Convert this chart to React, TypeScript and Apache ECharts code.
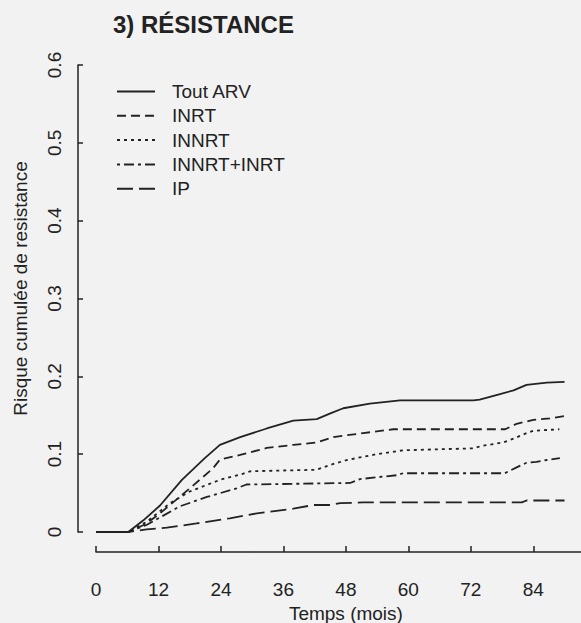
import React, { useEffect, useRef } from "react";
import * as echarts from "echarts";

const seriesNames = ["Tout ARV", "INRT", "INNRT", "INNRT+INRT", "IP"];

const toutMonths = [0, 6.2, 9.1, 12.3, 16.5, 20.9, 23.8, 27.7, 32.8, 37.9, 42.4, 44.9, 47.5, 52.6, 58.4, 72.5, 73.7, 77.6, 80.2, 82.7, 86.6, 90];
const toutValues = [0, 0, 0.015, 0.034, 0.067, 0.095, 0.112, 0.122, 0.133, 0.143, 0.145, 0.152, 0.159, 0.165, 0.169, 0.169, 0.17, 0.177, 0.182, 0.189, 0.192, 0.193];

const inrtMonths = [0, 6.2, 9.5, 12.3, 18, 22.5, 23.8, 27.7, 32.8, 37.9, 42.4, 45.6, 51.3, 57.1, 78.6, 80.8, 84, 87.2, 90];
const inrtValues = [0, 0, 0.01, 0.024, 0.056, 0.082, 0.093, 0.099, 0.108, 0.112, 0.115, 0.122, 0.127, 0.132, 0.132, 0.139, 0.144, 0.146, 0.149];

const innrtMonths = [0, 6.2, 9.7, 14.2, 18, 23.8, 28.3, 29.6, 42.4, 44.9, 48.2, 53.9, 59, 72.5, 74, 78.2, 80.2, 82.7, 84, 89];
const innrtValues = [0, 0, 0.013, 0.037, 0.052, 0.067, 0.075, 0.078, 0.08, 0.086, 0.0925, 0.1, 0.105, 0.1075, 0.1105, 0.115, 0.12, 0.127, 0.13, 0.132];

const comboMonths = [0, 6.2, 9.7, 16.1, 21.3, 27, 28.9, 48.8, 50.7, 57.8, 59, 78.5, 80.8, 82.7, 84.6, 86.6, 89.1];
const comboValues = [0, 0, 0.009, 0.033, 0.045, 0.056, 0.061, 0.063, 0.068, 0.073, 0.0755, 0.0755, 0.083, 0.089, 0.09, 0.0925, 0.095];

const ipMonths = [0, 6.2, 9.7, 13.6, 19.3, 25.7, 30.9, 37.9, 41.8, 45, 46.9, 51.3, 81.8, 82.7, 90];
const ipValues = [0, 0, 0.0035, 0.0055, 0.011, 0.0176, 0.024, 0.03, 0.0347, 0.0347, 0.037, 0.038, 0.038, 0.0405, 0.0405];

const xTicks = [0, 12, 24, 36, 48, 60, 72, 84];
const yTicks = [0, 0.1, 0.2, 0.3, 0.4, 0.5, 0.6];

const pair = (ms: number[], vs: number[]) => ms.map((m, i) => [m, vs[i]]);

const FONT = "'Liberation Sans', Arial, sans-serif";
const INK = "#222";

export default function App() {
  const ref = useRef<HTMLDivElement>(null);
  useEffect(() => {
    if (!ref.current) return;
    const chart = echarts.init(ref.current, null, { renderer: "svg" });
    const dashes: any[] = ["solid", [9, 5], [3, 4], [3, 4, 10, 4], [16, 6]];
    const datas = [
      pair(toutMonths, toutValues),
      pair(inrtMonths, inrtValues),
      pair(innrtMonths, innrtValues),
      pair(comboMonths, comboValues),
      pair(ipMonths, ipValues),
    ];
    chart.setOption({
      animation: false,
      backgroundColor: "#f2f2f2",
      textStyle: { fontFamily: FONT, color: INK },
      title: {
        text: "3) RÉSISTANCE",
        left: 108,
        top: 7,
        textStyle: { fontFamily: FONT, fontSize: 24, fontWeight: "bold", color: INK },
      },
      legend: {
        data: seriesNames,
        orient: "vertical",
        left: 111,
        top: 77,
        itemWidth: 38,
        itemHeight: 10,
        itemGap: 5.3,
        itemStyle: { opacity: 0 },
        textStyle: { fontFamily: FONT, fontSize: 19, color: INK, lineHeight: 19, padding: [0, 0, 0, 12] },
      },
      grid: { left: 96, top: 65, width: 96 * 5.206, height: 467, containLabel: false, outerBoundsMode: "none" },
      xAxis: {
        type: "value",
        min: 0,
        max: 96,
        interval: 12,
        offset: 20,
        name: "Temps (mois)",
        nameLocation: "middle",
        nameGap: 50,
        nameTextStyle: { fontFamily: FONT, fontSize: 19, color: INK },
        axisLine: { show: true, onZero: false, lineStyle: { color: INK, width: 1.5 } },
        axisTick: { show: true, inside: true, length: 6, lineStyle: { color: INK, width: 1.5 } },
        axisLabel: {
          fontFamily: FONT,
          fontSize: 19,
          color: INK,
          margin: 28,
          formatter: (v: number) => (xTicks.includes(v) ? String(v) : ""),
        },
        splitLine: { show: false },
      },
      yAxis: {
        type: "value",
        min: 0,
        max: 0.6,
        interval: 0.1,
        offset: 18,
        name: "Risque cumulée de resistance",
        nameLocation: "middle",
        nameRotate: 90,
        nameGap: 48,
        nameTextStyle: { fontFamily: FONT, fontSize: 19, color: INK, padding: [0, 0, 0, 20] },
        axisLine: { show: true, onZero: false, lineStyle: { color: INK, width: 1.5 } },
        axisTick: { show: true, inside: true, length: 5, lineStyle: { color: INK, width: 1.5 } },
        axisLabel: {
          fontFamily: FONT,
          fontSize: 19,
          color: INK,
          rotate: 90,
          margin: 14,
          formatter: (v: number) => {
            const t = yTicks.find((y) => Math.abs(y - v) < 1e-9);
            return t === undefined ? "" : t === 0 ? "0" : t.toFixed(1);
          },
        },
        splitLine: { show: false },
      },
      series: seriesNames.map((name, i) => ({
        name,
        type: "line",
        data: datas[i],
        symbol: "none",
        showSymbol: false,
        smooth: false,
        clip: false,
        lineStyle: { color: INK, width: 1.8, type: dashes[i] },
        itemStyle: { color: INK },
      })),
    });
    return () => chart.dispose();
  }, []);
  return <div ref={ref} style={{ position: "absolute", left: 0, top: 0, width: 581, height: 623 }} />;
}
